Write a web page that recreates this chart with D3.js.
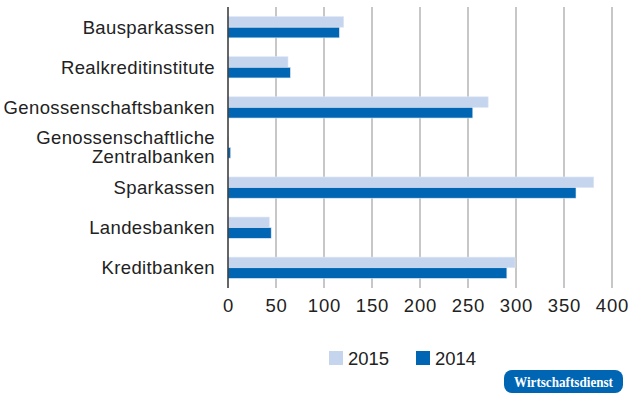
<!DOCTYPE html>
<html><head><meta charset="utf-8">
<script src="https://cdn.jsdelivr.net/npm/d3@7"></script>
<style>body{margin:0;background:#fff}svg{display:block}</style>
</head><body><svg id="c" width="630" height="398"></svg>
<script>
const categories = ["Bausparkassen","Realkreditinstitute","Genossenschaftsbanken","Genossenschaftliche\nZentralbanken","Sparkassen","Landesbanken","Kreditbanken"];
const values2015 = [120.5, 62.5, 271, 0.5, 381, 43, 299];
const values2014 = [116, 65, 255, 2.8, 362.5, 45, 290.5];
const seriesNames = ["2015","2014"];
const xTicks = [0,50,100,150,200,250,300,350,400];
const colors = {"2015":"#c6d5ee","2014":"#0066b3"};
const SANS = "'Liberation Sans',Arial,Helvetica,sans-serif";

const svg = d3.select("#c");
const x = d3.scaleLinear().domain([0,400]).range([228,612]);
const y = d3.scaleBand().domain(categories).range([7,288]).paddingInner(0.47).paddingOuter(0.24);
const sub = d3.scaleBand().domain(seriesNames).range([0,y.bandwidth()]);

// gridlines
svg.append("g").selectAll("line").data(xTicks.slice(1)).join("line")
  .attr("x1",d=>x(d)).attr("x2",d=>x(d)).attr("y1",7).attr("y2",288)
  .attr("stroke","#b4b4b4").attr("stroke-width",1.5);

const data = categories.map((c,i)=>({c, v:{"2015":values2015[i],"2014":values2014[i]}}));
const g = svg.append("g");
data.forEach(d=>{
  seriesNames.forEach(s=>{
    g.append("rect").attr("x",x(0)).attr("y",y(d.c)+sub(s))
     .attr("width",Math.max(0,x(d.v[s])-x(0))).attr("height",sub.bandwidth())
     .attr("fill",colors[s]).attr("stroke","#dfe7f5").attr("stroke-width",0.6);
  });
});

// axis line
svg.append("line").attr("x1",x(0)).attr("x2",x(0)).attr("y1",7).attr("y2",288).attr("stroke","#333").attr("stroke-width",1.5);

// x tick labels
const xa = svg.append("g").attr("transform","translate(0,288)").call(d3.axisBottom(x).tickValues(xTicks).tickSize(0).tickPadding(11));
xa.select(".domain").remove();
xa.selectAll("text").attr("font-size",18.5).attr("fill","#222").attr("font-family",SANS).attr("letter-spacing",0.8);

// category labels (one text element per line)
categories.forEach(c=>{
  const lines = c.split("\n");
  const cy = y(c)+y.bandwidth()/2;
  lines.forEach((l,i)=>{
    svg.append("text").attr("text-anchor","end").attr("font-size",18.5).attr("fill","#222")
      .attr("font-family",SANS).attr("letter-spacing",0.37)
      .attr("x",215).attr("y",cy + (i-(lines.length-1)/2)*19).attr("dy","0.35em").text(l);
  });
});

// legend
const leg = [{s:"2015",x:329},{s:"2014",x:416}];
leg.forEach(l=>{
  svg.append("rect").attr("x",l.x).attr("y",351).attr("width",14).attr("height",14).attr("fill",colors[l.s]);
  svg.append("text").attr("x",l.x+19).attr("y",364.5).attr("font-size",18.5).attr("font-family",SANS).attr("fill","#222").text(l.s);
});

// badge
svg.append("rect").attr("x",504).attr("y",370).attr("width",119).attr("height",23).attr("rx",8).attr("fill","#0066b3");
svg.append("text").attr("x",514).attr("y",386.5).attr("font-size",15).attr("font-weight","bold")
  .attr("textLength",99).attr("lengthAdjust","spacingAndGlyphs")
  .attr("font-family","'Liberation Serif','DejaVu Serif',serif").attr("fill","#fff").text("Wirtschaftsdienst");
</script></body></html>
